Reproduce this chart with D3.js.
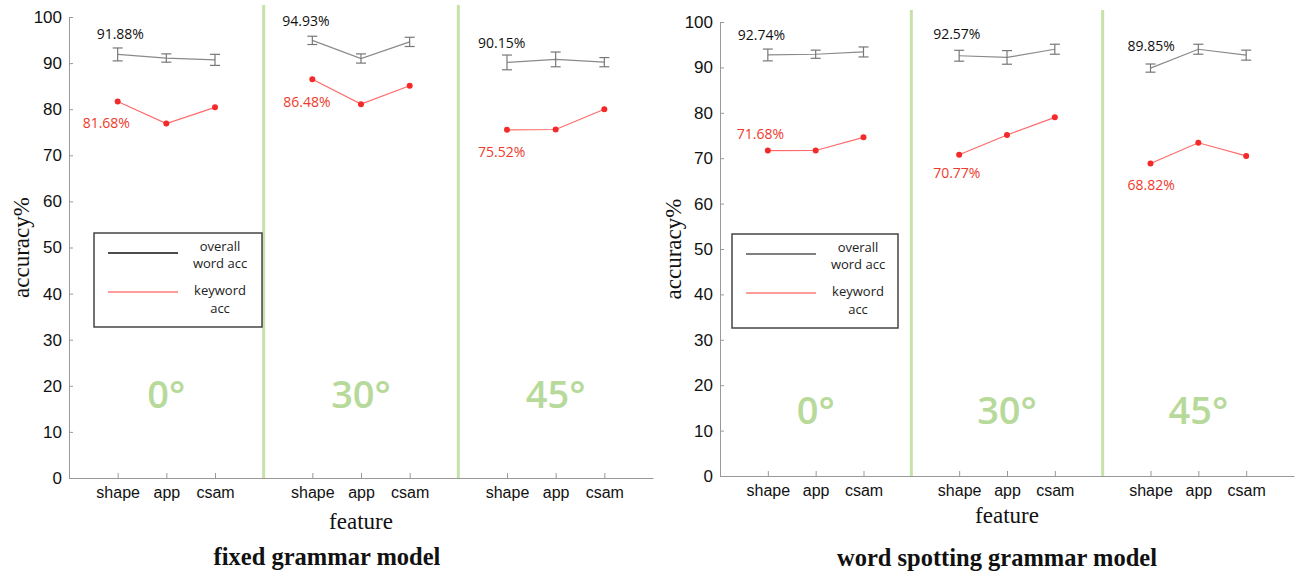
<!DOCTYPE html>
<html>
<head>
<meta charset="utf-8">
<script src="https://cdn.jsdelivr.net/npm/d3@7"></script>
<style>
  body { margin: 0; background: #fff; }
</style>
</head>
<body>
<div id="chart"></div>
<script>
const features = ["shape", "app", "csam"];
const angles = ["0°", "30°", "45°"];
const yTicks = [0, 10, 20, 30, 40, 50, 60, 70, 80, 90, 100];

// fixed grammar model
const fixedOverall = [91.88, 91.1, 90.7, 94.93, 91.0, 94.6, 90.15, 90.8, 90.2];
const fixedOverallErr = [1.4, 0.9, 1.2, 0.9, 1.0, 1.0, 1.6, 1.6, 1.0];
const fixedKeyword = [81.68, 76.9, 80.4, 86.48, 81.1, 85.1, 75.52, 75.6, 80.0];

// word spotting grammar model
const spotOverall = [92.74, 92.9, 93.4, 92.57, 92.2, 94.0, 89.85, 94.0, 92.7];
const spotOverallErr = [1.3, 0.9, 1.1, 1.2, 1.5, 1.1, 0.9, 1.1, 1.1];
const spotKeyword = [71.68, 71.7, 74.6, 70.77, 75.1, 79.0, 68.82, 73.4, 70.5];

const W = 1300, H = 576;
const svg = d3.select("#chart").append("svg").attr("width", W).attr("height", H);

const serif = "Liberation Serif, Times New Roman, serif";
const sans = "Liberation Sans, Arial, sans-serif";

function drawPanel(p) {
    const g = svg.append("g");

    const x = d3.scaleLinear().domain([0, 12]).range([p.x0, p.x1]);
    const y = d3.scaleLinear().domain([0, 100]).range([p.y0, p.y1]);

    // position index for each (angle, feature)
    const pos = [];
    angles.forEach((a, i) => features.forEach((f, j) => pos.push(i * 4 + j + 1)));

    // green separators
    g.selectAll(".sep")
        .data([4, 8])
        .enter().append("line")
        .attr("x1", d => x(d)).attr("x2", d => x(d))
        .attr("y1", p.sepTop).attr("y2", p.y0)
        .attr("stroke", "#c6e2a9")
        .attr("stroke-width", 3);

    // y axis
    const yAxis = d3.axisLeft(y).tickValues(yTicks).tickSize(-4).tickPadding(7);
    const ya = g.append("g")
        .attr("transform", `translate(${p.x0},0)`)
        .call(yAxis);
    ya.select(".domain").attr("stroke", "#999");
    ya.selectAll(".tick line").attr("stroke", "#999");
    ya.selectAll(".tick text")
        .style("font-family", sans)
        .style("font-size", "17px")
        .attr("fill", "#111");

    // x axis
    const xAxis = d3.axisBottom(x)
        .tickValues(pos)
        .tickFormat((d, i) => features[i % 3])
        .tickSize(-5)
        .tickPadding(9)
        .tickSizeOuter(0);
    const xa = g.append("g")
        .attr("transform", `translate(0,${p.y0})`)
        .call(xAxis);
    xa.select(".domain").attr("stroke", "#999");
    xa.selectAll(".tick line").attr("stroke", "#999");
    xa.selectAll(".tick text")
        .style("font-family", sans)
        .style("font-size", "16px")
        .attr("fill", "#111");

    // angle labels
    g.selectAll(".angle")
        .data(angles)
        .enter().append("text")
        .attr("x", (d, i) => x(i * 4 + 2))
        .attr("y", p.angleY)
        .attr("text-anchor", "middle")
        .style("font-family", "Open Sans, sans-serif")
        .style("font-size", "38px")
        .style("font-weight", "600")
        .attr("fill", "#b7da9a")
        .text(d => d);

    const line = d3.line().x(d => x(d[0])).y(d => y(d[1]));

    angles.forEach((a, i) => {
        const idx = [i * 3, i * 3 + 1, i * 3 + 2];
        const ov = idx.map(k => [pos[k], p.overall[k], p.err[k]]);
        const kw = idx.map(k => [pos[k], p.keyword[k]]);

        g.append("path").datum(ov).attr("d", line)
            .attr("fill", "none").attr("stroke", "#8a8a8a").attr("stroke-width", 1.2);

        const eb = g.selectAll(null).data(ov).enter().append("g");
        eb.append("line")
            .attr("x1", d => x(d[0])).attr("x2", d => x(d[0]))
            .attr("y1", d => y(d[1] - d[2])).attr("y2", d => y(d[1] + d[2]))
            .attr("stroke", "#777").attr("stroke-width", 1.2);
        [-1, 1].forEach(s => {
            eb.append("line")
                .attr("x1", d => x(d[0]) - 5).attr("x2", d => x(d[0]) + 5)
                .attr("y1", d => y(d[1] + s * d[2])).attr("y2", d => y(d[1] + s * d[2]))
                .attr("stroke", "#777").attr("stroke-width", 1.2);
        });

        g.append("path").datum(kw).attr("d", line)
            .attr("fill", "none").attr("stroke", "#ff6a6a").attr("stroke-width", 1.2);
        g.selectAll(null).data(kw).enter().append("circle")
            .attr("cx", d => x(d[0])).attr("cy", d => y(d[1]))
            .attr("r", 3).attr("fill", "#f42a2a");

        const ob = p.blackOff[i], rb = p.redOff[i];
        g.append("text")
            .attr("x", x(ov[0][0]) + ob[0]).attr("y", y(ov[0][1]) + ob[1])
            .style("font-family", "Open Sans, sans-serif").style("font-size", "14px")
            .attr("fill", "#111")
            .text(ov[0][1].toFixed(2) + "%");
        g.append("text")
            .attr("x", x(kw[0][0]) + rb[0]).attr("y", y(kw[0][1]) + rb[1])
            .style("font-family", "Open Sans, sans-serif").style("font-size", "14px")
            .attr("fill", "#ee3a2c")
            .text(kw[0][1].toFixed(2) + "%");
    });

    // legend
    const L = p.legend;
    const lg = g.append("g").attr("transform", `translate(${L.x},${L.y})`);
    lg.append("rect").attr("width", L.w).attr("height", L.h)
        .attr("fill", "#fff").attr("stroke", "#444").attr("stroke-width", 1.5);
    lg.append("line").attr("x1", 14).attr("x2", 84).attr("y1", 20).attr("y2", 20)
        .attr("stroke", p.legendBlack).attr("stroke-width", 1.6);
    lg.append("line").attr("x1", 14).attr("x2", 84).attr("y1", 59).attr("y2", 59)
        .attr("stroke", "#ff7a7a").attr("stroke-width", 1.6);
    const lt = [["overall", 18], ["word acc", 35], ["keyword", 62], ["acc", 80]];
    lg.selectAll(".lt").data(lt).enter().append("text")
        .attr("x", 126).attr("y", d => d[1])
        .attr("text-anchor", "middle")
        .style("font-family", "Open Sans, sans-serif").style("font-size", "13px")
        .attr("fill", "#222")
        .text(d => d[0]);

    // axis titles
    g.append("text")
        .attr("transform", `translate(${p.yLabelX},${(p.y0 + p.y1) / 2}) rotate(-90)`)
        .attr("text-anchor", "middle")
        .style("font-family", serif)
        .style("font-size", "23px")
        .attr("fill", "#111")
        .text("accuracy%");
    g.append("text")
        .attr("x", x(6)).attr("y", p.featureY)
        .attr("text-anchor", "middle")
        .style("font-family", serif)
        .style("font-size", "23px")
        .attr("fill", "#111")
        .text("feature");
    g.append("text")
        .attr("x", p.titleX).attr("y", p.titleY)
        .attr("text-anchor", "middle")
        .style("font-family", serif)
        .style("font-size", "24.5px")
        .style("font-weight", "bold")
        .attr("fill", "#111")
        .text(p.title);
}

drawPanel({
    x0: 69, x1: 653, y0: 478, y1: 17, sepTop: 5,
    overall: fixedOverall, err: fixedOverallErr, keyword: fixedKeyword,
    blackOff: [[-21, -15], [-30, -14], [-29, -14]],
    redOff: [[-35, 27], [-29, 28], [-29, 27]],
    legend: { x: 94, y: 233, w: 168, h: 94 }, legendBlack: "#111",
    angleY: 408, yLabelX: 29, featureY: 529,
    title: "fixed grammar model", titleX: 327, titleY: 565
});

drawPanel({
    x0: 720, x1: 1294, y0: 476, y1: 22, sepTop: 10,
    overall: spotOverall, err: spotOverallErr, keyword: spotKeyword,
    blackOff: [[-30, -15], [-26, -17], [-23, -17]],
    redOff: [[-31, -12], [-26, 23], [-23, 26]],
    legend: { x: 732, y: 234, w: 166, h: 94 }, legendBlack: "#555",
    angleY: 424, yLabelX: 681, featureY: 523,
    title: "word spotting grammar model", titleX: 997, titleY: 566
});
</script>
</body>
</html>
